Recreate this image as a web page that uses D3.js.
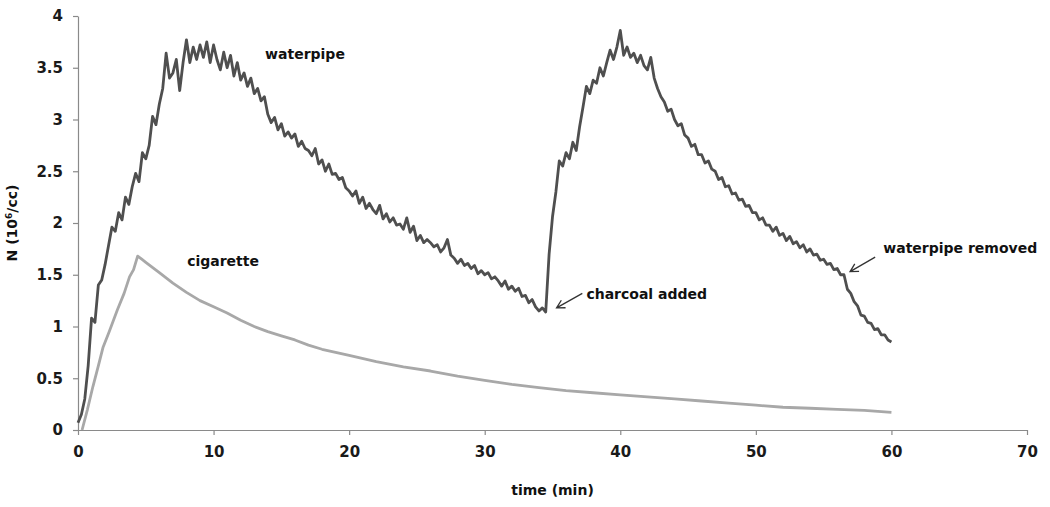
<!DOCTYPE html>
<html>
<head>
<meta charset="utf-8">
<script src="https://cdn.jsdelivr.net/npm/d3@7"></script>
<style>
  body { margin: 0; background: #fff; }
  svg { display: block; }
  .tick text { font-family: "DejaVu Sans", sans-serif; font-weight: bold; font-size: 15px; fill: #1a1a1a; }
  .lbl { font-family: "DejaVu Sans", sans-serif; font-weight: bold; font-size: 14px; fill: #111; }
</style>
</head>
<body>
<svg id="chart"></svg>
<script>
// waterpipe particle count, one reading every 0.25 min from t = 0
var sampleStep = 0.25;
var waterpipeN = [
  0.07, 0.15, 0.30, 0.62,   1.08, 1.04, 1.40, 1.45,
  1.60, 1.78, 1.96, 1.92,   2.10, 2.03, 2.25, 2.18,
  2.35, 2.48, 2.40, 2.68,   2.62, 2.75, 3.03, 2.95,
  3.15, 3.30, 3.64, 3.40,   3.45, 3.58, 3.28, 3.55,
  3.77, 3.55, 3.70, 3.58,   3.72, 3.60, 3.75, 3.55,
  3.72, 3.58, 3.48, 3.65,   3.50, 3.62, 3.42, 3.55,
  3.38, 3.45, 3.32, 3.40,   3.25, 3.30, 3.18, 3.22,
  3.05, 2.97, 3.02, 2.90,   2.96, 2.84, 2.88, 2.82,
  2.86, 2.74, 2.79, 2.72,   2.70, 2.65, 2.72, 2.57,
  2.61, 2.50, 2.57, 2.47,   2.48, 2.42, 2.44, 2.34,
  2.31, 2.26, 2.31, 2.19,   2.25, 2.14, 2.19, 2.13,
  2.09, 2.17, 2.04, 2.09,   2.01, 2.05, 1.98, 1.99,
  1.94, 2.05, 1.91, 1.97,   1.83, 1.88, 1.81, 1.84,
  1.81, 1.77, 1.79, 1.72,   1.76, 1.84, 1.69, 1.66,
  1.61, 1.65, 1.59, 1.61,   1.56, 1.59, 1.51, 1.54,
  1.50, 1.52, 1.46, 1.48,   1.44, 1.39, 1.44, 1.36,
  1.39, 1.34, 1.37, 1.29,   1.30, 1.23, 1.26, 1.19,
  1.15, 1.18, 1.14, 1.70,   2.06, 2.30, 2.60, 2.55,
  2.68, 2.62, 2.78, 2.70,   2.93, 3.12, 3.32, 3.25,
  3.38, 3.35, 3.50, 3.42,   3.55, 3.67, 3.58, 3.70,
  3.86, 3.62, 3.70, 3.60,   3.64, 3.55, 3.62, 3.52,
  3.48, 3.60, 3.40, 3.30,   3.22, 3.17, 3.08, 3.10,
  3.00, 2.94, 2.96, 2.85,   2.82, 2.74, 2.76, 2.66,
  2.66, 2.58, 2.60, 2.52,   2.50, 2.42, 2.44, 2.35,
  2.36, 2.28, 2.29, 2.22,   2.23, 2.16, 2.17, 2.10,
  2.10, 2.03, 2.05, 1.98,   1.98, 1.92, 1.96, 1.88,
  1.90, 1.83, 1.87, 1.80,   1.82, 1.76, 1.79, 1.72,
  1.75, 1.69, 1.70, 1.64,   1.65, 1.60, 1.61, 1.55,
  1.56, 1.50, 1.50, 1.36,   1.32, 1.24, 1.20, 1.11,
  1.10, 1.04, 1.03, 0.97,   0.98, 0.92, 0.92, 0.87,
  0.85
];

// cigarette
var cigTime = [0.3, 0.7, 1.1, 1.5, 1.85, 2.3, 2.9, 3.4, 3.8, 4.1, 4.4, 4.7, 5, 6, 7, 8, 9, 10,
  11, 12, 13, 14, 15, 16, 17, 18, 19, 20, 22, 24, 26, 28, 30, 32, 34, 36, 38, 40,
  42, 44, 46, 48, 50, 52, 54, 56, 58, 60];
var cigN = [0.00, 0.20, 0.42, 0.62, 0.80, 0.95, 1.16, 1.32, 1.48, 1.55, 1.68, 1.65, 1.62, 1.52, 1.42, 1.33, 1.25, 1.19,
  1.13, 1.06, 1.00, 0.95, 0.91, 0.87, 0.82, 0.78, 0.75, 0.72, 0.66, 0.61, 0.57, 0.52, 0.48, 0.44, 0.41, 0.38, 0.36, 0.34,
  0.32, 0.30, 0.28, 0.26, 0.24, 0.22, 0.21, 0.20, 0.19, 0.17];

var xTicks = [0, 10, 20, 30, 40, 50, 60, 70];
var yTicks = [0, 0.5, 1, 1.5, 2, 2.5, 3, 3.5, 4];

var w = 1050, h = 507;
var margin = {top: 16, right: 23, bottom: 77, left: 78};

var x = d3.scaleLinear().domain([0, 70]).range([margin.left, w - margin.right]);
var y = d3.scaleLinear().domain([0, 4]).range([h - margin.bottom, margin.top]);

var svg = d3.select("#chart").attr("width", w).attr("height", h);

// axes
var xAxis = svg.append("g")
    .attr("transform", "translate(0," + y(0) + ")")
    .call(d3.axisBottom(x).tickValues(xTicks).tickSize(5).tickPadding(11).tickSizeOuter(0));
var yAxis = svg.append("g")
    .attr("transform", "translate(" + x(0) + ",0)")
    .call(d3.axisLeft(y).tickValues(yTicks).tickSize(5).tickPadding(10).tickSizeOuter(0)
      .tickFormat(function(d){ return d; }));
svg.selectAll(".domain, .tick line").attr("stroke", "#8a8a8a").attr("stroke-width", 1.2);

// lines
var wpData = waterpipeN.map(function(v, i){ return [i * sampleStep, v]; });
var cigData = cigTime.map(function(t, i){ return [t, cigN[i]]; });
var line = d3.line().x(function(d){ return x(d[0]); }).y(function(d){ return y(d[1]); });

svg.append("path").datum(cigData)
    .attr("d", line).attr("fill", "none")
    .attr("stroke", "#a8a8a8").attr("stroke-width", 2.8).attr("stroke-linejoin", "round");
svg.append("path").datum(wpData)
    .attr("d", line).attr("fill", "none")
    .attr("stroke", "#4f4f4f").attr("stroke-width", 2.8).attr("stroke-linejoin", "round");

// labels
var labels = [
  {text: "waterpipe", t: 13.8, v: 3.58},
  {text: "cigarette", t: 8.05, v: 1.58},
  {text: "charcoal added", t: 37.5, v: 1.27},
  {text: "waterpipe removed", t: 59.4, v: 1.71}
];
svg.selectAll(".lbl").data(labels).enter().append("text")
    .attr("class", "lbl")
    .attr("x", function(d){ return x(d.t); })
    .attr("y", function(d){ return y(d.v); })
    .text(function(d){ return d.text; });

// arrows: tail -> tip
var arrows = [
  {t0: 37.2, v0: 1.32, t1: 35.3, v1: 1.18},
  {t0: 58.8, v0: 1.67, t1: 56.95, v1: 1.53}
];
arrows.forEach(function(a){
  var x0 = x(a.t0), y0 = y(a.v0), x1 = x(a.t1), y1 = y(a.v1);
  var ang = Math.atan2(y0 - y1, x0 - x1), len = 9, spread = 0.5;
  var p = "M" + x0 + "," + y0 + "L" + x1 + "," + y1 +
    "M" + (x1 + len * Math.cos(ang - spread)) + "," + (y1 + len * Math.sin(ang - spread)) +
    "L" + x1 + "," + y1 +
    "L" + (x1 + len * Math.cos(ang + spread)) + "," + (y1 + len * Math.sin(ang + spread));
  svg.append("path").attr("d", p).attr("fill", "none").attr("stroke", "#333").attr("stroke-width", 1.3);
});

// axis titles
svg.append("text").attr("class", "lbl")
    .attr("x", (x(0) + x(70)) / 2).attr("y", 495)
    .attr("text-anchor", "middle")
    .text("time (min)");
var yt = svg.append("text").attr("class", "lbl")
    .attr("transform", "translate(17," + (y(2)) + ") rotate(-90)")
    .attr("text-anchor", "middle");
yt.append("tspan").text("N (10");
yt.append("tspan").attr("font-size", "9px").attr("dy", -5).text("6");
yt.append("tspan").attr("dy", 5).text("/cc)");
</script>
</body>
</html>
